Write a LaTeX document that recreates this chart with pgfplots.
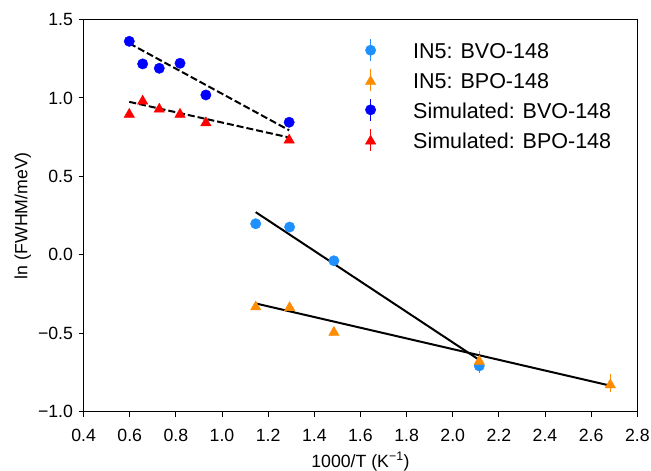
\documentclass[border=0pt]{standalone}
\usepackage{fontspec}
\setmainfont{Liberation Sans}
\usepackage{pgfplots}
\usepackage{pgfplotstable}
\pgfplotsset{compat=1.18}
\definecolor{in5blue}{RGB}{30,144,255}
\definecolor{in5orange}{RGB}{255,140,0}

\pgfplotstableread{
x y ey
1.146 0.198 0.030
1.293 0.177 0.025
1.485 -0.038 0.020
2.115 -0.708 0.047
}\inbvo
\pgfplotstableread{
x y ey
1.146 -0.323 0.020
1.293 -0.327 0.020
1.485 -0.485 0.025
2.115 -0.670 0.057
2.683 -0.819 0.058
}\inbpo
\pgfplotstableread{
x y ey
0.598 1.361 0
0.656 1.217 0
0.728 1.189 0
0.818 1.221 0
0.930 1.019 0
1.291 0.845 0
}\simbvo
\pgfplotstableread{
x y ey
0.598 0.905 0
0.656 0.989 0
0.728 0.938 0
0.818 0.905 0
0.930 0.851 0
1.291 0.741 0
}\simbpo

\begin{document}
\begin{tikzpicture}
\path[use as bounding box] (-83.6bp,-59.3bp) rectangle (567.4bp,411.7bp);
\begin{axis}[
  scale only axis, width=553.7bp, height=392.2bp,
  xmin=0.4, xmax=2.8, ymin=-1, ymax=1.5,
  axis line style={line width=1bp, black},
  tick align=outside, xtick pos=bottom, ytick pos=left,
  major tick length=4.9bp, every tick/.style={line width=1bp, black},
  xtick={0.4,0.6,0.8,1.0,1.2,1.4,1.6,1.8,2.0,2.2,2.4,2.6,2.8},
  xticklabels={0.4,0.6,0.8,1.0,1.2,1.4,1.6,1.8,2.0,2.2,2.4,2.6,2.8},
  ytick={-1,-0.5,0,0.5,1,1.5},
  yticklabels={−1.0,−0.5,0.0,0.5,1.0,1.5},
  tick label style={font=\fontsize{17.7bp}{20bp}\selectfont},
  xticklabel style={anchor=base, inner sep=0pt, yshift=-25bp},
  yticklabel style={anchor=east, inner sep=0pt, xshift=-5.5bp},
  label style={font=\fontsize{17.7bp}{20bp}\selectfont},
  xlabel={1000/T (K\textsuperscript{−1})},
  xlabel style={at={(axis description cs:0.5,-0.141)}, anchor=base, inner sep=0pt},
  ylabel={ln (FWHM/meV)},
  ylabel style={at={(axis description cs:-0.110,0.5)}, anchor=center, inner sep=0pt},
  error bars/y dir=both, error bars/y explicit,
  error bars/error mark=none,
  legend style={at={(axis cs:1.618,1.379)}, anchor=north west, draw=none, fill=none,
    inner sep=0pt, outer sep=0pt, row sep=6.3bp, column sep=0pt,
    font=\fontsize{21.5bp}{24bp}\selectfont,
    nodes={inner sep=0pt, outer sep=0pt}},
  legend cell align=left,
  legend image code/.code={
    \path[draw=none, fill=none] (-6bp,-9bp) rectangle (42.6bp,13bp);
    \draw[#1, mark=none, solid, line width=1.5bp] (0bp,-9bp) -- (0bp,13bp);
    \draw[#1, only marks] plot coordinates {(0bp,2bp)};
  },
]
\addplot[only marks, color=in5blue, mark=*, mark size=5.2bp,
  error bars/error bar style={line width=1.5bp, in5blue}]
  table[x=x, y=y, y error=ey] {\inbvo};
\addlegendentry{IN5: BVO-148}
\addplot[only marks, color=in5orange, mark=triangle*, mark size=6bp,
  mark options={yshift=-1.5bp},
  error bars/error bar style={line width=1.5bp, in5orange}]
  table[x=x, y=y, y error=ey] {\inbpo};
\addlegendentry{IN5: BPO-148}
\addplot[only marks, color=blue, mark=*, mark size=5.2bp,
  error bars/error bar style={line width=1.5bp, blue}]
  table[x=x, y=y, y error=ey] {\simbvo};
\addlegendentry{Simulated: BVO-148}
\addplot[only marks, color=red, mark=triangle*, mark size=6bp,
  mark options={yshift=-1.5bp},
  error bars/error bar style={line width=1.5bp, red}]
  table[x=x, y=y, y error=ey] {\simbpo};
\addlegendentry{Simulated: BPO-148}
% fit lines
\addplot[forget plot, black, line width=2bp, dash pattern=on 7bp off 3bp, no marks]
  coordinates {(0.598,1.348) (1.291,0.794)};
\addplot[forget plot, black, line width=2bp, dash pattern=on 7bp off 3bp, no marks]
  coordinates {(0.598,0.975) (1.291,0.748)};
\addplot[forget plot, black, line width=2bp, no marks]
  coordinates {(1.146,0.272) (2.115,-0.670)};
\addplot[forget plot, black, line width=2bp, no marks]
  coordinates {(1.146,-0.310) (2.683,-0.834)};
\end{axis}
\end{tikzpicture}
\end{document}
